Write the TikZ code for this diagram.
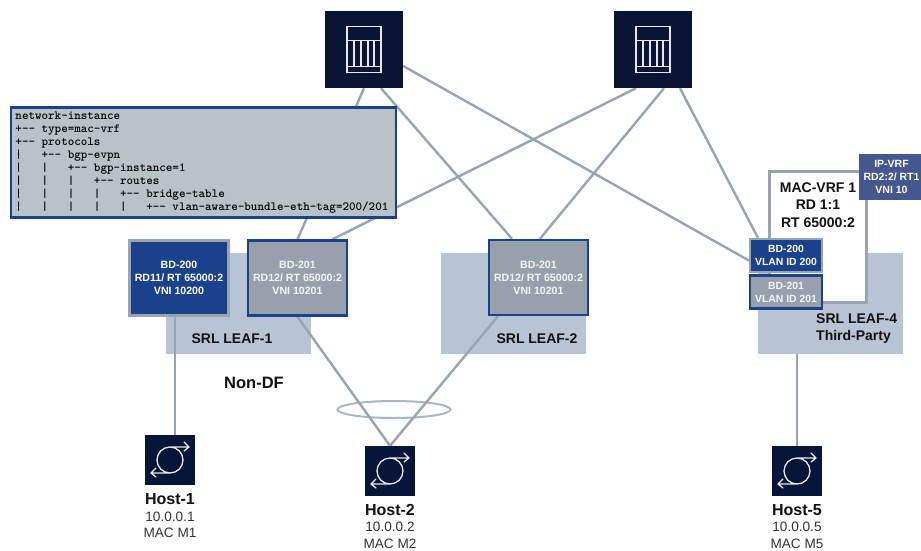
\documentclass[tikz,border=0pt]{standalone}
\usepackage{fontspec}
\usetikzlibrary{shapes.geometric}
\setmainfont{Liberation Sans}
\definecolor{navy}{HTML}{0A1435}
\definecolor{hostnavy}{HTML}{051638}
\definecolor{bdblue}{HTML}{1A418B}
\definecolor{bdgray}{HTML}{97A1AC}
\definecolor{linegray}{HTML}{98A4B0}
\definecolor{leafbg}{HTML}{B8C3D3}
\definecolor{cfgbg}{HTML}{B8C2C7}
\definecolor{ipvrf}{HTML}{44588F}
\definecolor{ink}{HTML}{111111}
\pgfdeclarelayer{backdrop}
\pgfdeclarelayer{wires}
\pgfsetlayers{backdrop,wires,main}
\tikzset{
  x=1pt,y=-1pt,
  link/.style={draw=linegray,line width=2.4pt},
  spinebox/.style={fill=navy,minimum width=78pt,minimum height=77pt,inner sep=0pt},
  hostbox/.style={fill=hostnavy,minimum width=50pt,minimum height=50pt,inner sep=0pt},
  leafbox/.style={fill=leafbg,minimum width=145pt,minimum height=101pt,inner sep=0pt},
  bdtext/.style={text=white,font=\fontsize{10.6}{13}\selectfont\bfseries,align=center,inner sep=0pt},
  bdblock/.style={bdtext,fill=bdblue,draw=linegray,line width=2.5pt,minimum width=99pt,minimum height=75pt},
  bdgrey/.style={bdtext,text=white!90!bdgray,fill=bdgray,draw=bdblue,line width=2.5pt,minimum width=99pt,minimum height=75pt},
  smallblue/.style={bdtext,font=\fontsize{10.4}{13}\selectfont\bfseries,fill=bdblue,draw=linegray,line width=2.2pt,minimum width=72pt,minimum height=33pt},
  smallgrey/.style={bdtext,text=white!90!bdgray,font=\fontsize{10.4}{13}\selectfont\bfseries,fill=bdgray,draw=bdblue,line width=2.2pt,minimum width=72pt,minimum height=33pt},
  leaflabel/.style={text=ink,font=\fontsize{14}{17}\selectfont\bfseries,align=center,inner sep=0pt},
  hostname/.style={text=ink,font=\fontsize{16}{18}\selectfont\bfseries,inner sep=0pt},
  hostinfo/.style={text=ink!85,font=\fontsize{13.6}{16.5}\selectfont,align=center,inner sep=0pt},
  spineicon/.pic={
    \draw[white!90!navy,line width=1.1pt]
      (-17,-23) rectangle (17,23)
      (-17,-9) -- (17,-9) (-17,17) -- (17,17)
      (-10,-9) -- (-10,17) (-3,-9) -- (-3,17) (4,-9) -- (4,17) (10,-9) -- (10,17);
  },
  hosticon/.pic={
    \draw[white!90!hostnavy,line width=1.3pt,line cap=round,line join=round]
      (0,0) circle[radius=13pt]
      (0,-13) -- (19,-13) (14,-18) -- (19,-13) -- (14,-9)
      (0,13) -- (-19,13) (-14,8) -- (-19,13) -- (-14,17);
  },
}
\begin{document}
\begin{tikzpicture}
\useasboundingbox (0,0) rectangle (921,550);

\begin{pgfonlayer}{backdrop}
\fill[white] (0,0) rectangle (921,550);
\node[leafbox] (leafA) at (238.5,303.5) {};
\node[leafbox] (leafB) at (513.5,303.5) {};
\node[leafbox] (leafD) at (830.5,303) {};
\node[draw=linegray,fill=white,line width=2.5pt,minimum width=97pt,minimum height=131pt,inner sep=0pt] (macvrf) at (818,237) {};
\node[draw=leafbg!60!linegray,line width=2pt,ellipse,minimum width=113pt,minimum height=17pt,inner sep=0pt] (ring) at (394,409.5) {};
\end{pgfonlayer}

\node[leaflabel,font=\fontsize{14}{17.5}\selectfont\bfseries] (macvrftxt) at (818,205) {MAC-VRF 1\\RD 1:1\\RT 65000:2};

% spines and hosts
\node[spinebox] (spineA) at (364,49.5) {};
\pic at (spineA) {spineicon};
\node[spinebox] (spineB) at (653,49.5) {};
\pic at (spineB) {spineicon};
\node[hostbox] (hostA) at (170,460) {};
\pic at (hostA) {hosticon};
\node[hostbox] (hostB) at (390,471) {};
\pic at (hostB) {hosticon};
\node[hostbox] (hostC) at (797,471) {};
\pic at (hostC) {hosticon};

% bridge domains
\node[bdblock] (bdA) at (179,278) {BD-200\\RD11/ RT 65000:2\\VNI 10200};
\node[bdgrey] (bdB) at (297.5,278) {BD-201\\RD12/ RT 65000:2\\VNI 10201};
\node[bdgrey] (bdC) at (538.5,277.5) {BD-201\\RD12/ RT 65000:2\\VNI 10201};
\node[smallblue] (bdD) at (786,255.5) {BD-200\\VLAN ID 200};
\node[smallgrey] (bdE) at (786,292) {BD-201\\VLAN ID 201};
\node[bdtext,fill=ipvrf,font=\fontsize{10.5}{13.4}\selectfont\bfseries,minimum width=62pt,minimum height=46pt] (ipv) at (890,177) {\hspace*{3pt}IP-VRF\\\hspace*{3pt}RD2:2/ RT1\\\hspace*{3pt}VNI 10};

% links
\begin{pgfonlayer}{wires}
\draw[link] (spineA.south) -- (bdB.north);
\draw[link] ([xshift=17pt]spineA.south) -- ([xshift=-26.5pt]bdC.north);
\draw[link] ([yshift=-16.5pt]spineA.east) -- ([yshift=-5pt]bdD.west);
\draw[link] ([xshift=-17pt]spineB.south) -- ([xshift=35pt]bdB.north);
\draw[link] ([xshift=11pt]spineB.south) -- ([xshift=1.5pt]bdC.north);
\draw[link] ([xshift=27pt]spineB.south) -- ([xshift=-28pt]bdD.north);
\draw[link] ([xshift=-4pt]bdA.south) -- ([xshift=5pt]hostA.north);
\draw[link] (bdB.south) -- (hostB.north);
\draw[link] ([xshift=-40.5pt]bdC.south) -- (hostB.north);
\draw[link] ([xshift=-33.5pt]leafD.south) -- (hostC.north);
\end{pgfonlayer}

% configuration box
\node[draw=bdblue,fill=cfgbg,line width=2.5pt,minimum width=385pt,minimum height=110pt,inner sep=0pt,text width=376pt,align=left,
  font=\ttfamily\bfseries\fontsize{12.46}{13.1}\selectfont] (cfg) at (203.5,162.5)
{\spaceskip=6.54pt\relax network-instance\\
+-{}-~type=mac-vrf\\
+-{}-~protocols\\
|~~~+-{}-~bgp-evpn\\
|~~~|~~~+-{}-~bgp-instance=1\\
|~~~|~~~|~~~+-{}-~routes\\
|~~~|~~~|~~~|~~~+-{}-~bridge-table\\
|~~~|~~~|~~~|~~~|~~~+-{}-~vlan-aware-bundle-eth-tag=200/201};

% labels
\node[leaflabel] (leafAt) at (232,339) {SRL LEAF-1};
\node[leaflabel] (leafBt) at (537,339) {SRL LEAF-2};
\node[leaflabel,align=left,anchor=west] (leafDt) at (816,329) {SRL LEAF-4\\Third-Party};
\node[leaflabel,font=\fontsize{16.5}{18}\selectfont\bfseries] (nondf) at (254,383) {Non-DF};
\node[hostname] (hA) at (170,499) {Host-1};
\node[hostinfo] (iA) at (170,525) {10.0.0.1\\MAC M1};
\node[hostname] (hB) at (390,510) {Host-2};
\node[hostinfo] (iB) at (390,535.5) {10.0.0.2\\MAC M2};
\node[hostname] (hC) at (797,510) {Host-5};
\node[hostinfo] (iC) at (797,535.5) {10.0.0.5\\MAC M5};
\end{tikzpicture}
\end{document}
